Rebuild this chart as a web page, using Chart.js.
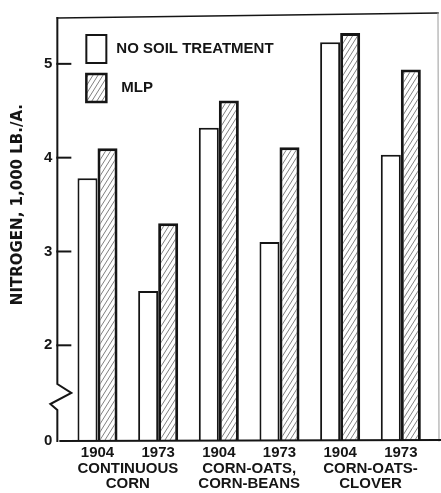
<!DOCTYPE html>
<html>
<head>
<meta charset="utf-8">
<script src="https://cdn.jsdelivr.net/npm/chart.js@4.4.0/dist/chart.umd.min.js"></script>
<style>
  html, body { margin: 0; padding: 0; background: #fff; }
  #wrap { width: 441px; height: 493px; position: relative; }
</style>
</head>
<body>
<div id="wrap"><canvas id="bar-chart"></canvas></div>
<script>
var years = ["1904", "1973", "1904", "1973", "1904", "1973"];
var rotations = [["CONTINUOUS", "CORN"], ["CORN-OATS,", "CORN-BEANS"], ["CORN-OATS-", "CLOVER"]];
var seriesNames = ["NO SOIL TREATMENT", "MLP"];
var noTreatment = [3.78, 2.58, 4.32, 3.1, 5.23, 4.03];
var mlp = [4.1, 3.3, 4.61, 4.11, 5.33, 4.94];
var yTicks = [2, 3, 4, 5];
var yFloor = 0.98; // broken axis: bottom of the plot is labelled 0
var yTitle = 'NITROGEN, 1,000 LB./A.';

var ink = '#151515';
var fontName = '"Liberation Sans", Arial, sans-serif';

function makeHatch() {
  var c = document.createElement('canvas');
  c.width = 5; c.height = 8;
  var g = c.getContext('2d');
  g.fillStyle = '#fff';
  g.fillRect(0, 0, 5, 8);
  g.strokeStyle = '#808080';
  g.lineWidth = 1;
  g.beginPath();
  g.moveTo(0, 8); g.lineTo(5, 0);
  g.moveTo(-5, 8); g.lineTo(0, 0);
  g.moveTo(5, 8); g.lineTo(10, 0);
  g.stroke();
  return g.createPattern(c, 'repeat');
}
var hatch = makeHatch();

function points(arr) {
  return arr.map(function (v, i) { return { x: i, y: v }; });
}

// axis line with break, inward ticks, frame, y title and legend
var frame = {
  id: 'frame',
  afterDraw: function (chart) {
    var ctx = chart.ctx, a = chart.chartArea, y = chart.scales.y;
    ctx.save();
    ctx.strokeStyle = ink;
    ctx.lineCap = 'square';

    // top border
    ctx.lineWidth = 1.5;
    ctx.beginPath();
    ctx.moveTo(a.left, a.top + 2);
    ctx.lineTo(a.right + 2, a.top - 3);
    ctx.stroke();
    // faint right border
    ctx.strokeStyle = '#9a9a9a';
    ctx.lineWidth = 1;
    ctx.beginPath();
    ctx.moveTo(a.right + 2, a.top - 3);
    ctx.lineTo(a.right + 3, a.bottom);
    ctx.stroke();

    // y axis with zigzag break
    ctx.strokeStyle = ink;
    ctx.lineWidth = 2;
    ctx.lineJoin = 'miter';
    ctx.beginPath();
    ctx.moveTo(a.left, a.top + 2);
    ctx.lineTo(a.left, a.bottom - 57);
    ctx.lineTo(a.left + 14, a.bottom - 48);
    ctx.lineTo(a.left - 7, a.bottom - 37);
    ctx.lineTo(a.left, a.bottom - 31);
    ctx.lineTo(a.left, a.bottom);
    ctx.stroke();

    // inward tick marks
    yTicks.forEach(function (t) {
      var py = y.getPixelForValue(t);
      ctx.beginPath();
      ctx.moveTo(a.left, py);
      ctx.lineTo(a.left + 13, py);
      ctx.stroke();
    });

    // bottom axis
    ctx.beginPath();
    ctx.moveTo(a.left + 3, a.bottom);
    ctx.lineTo(chart.width, a.bottom - 1);
    ctx.stroke();

    // y title (sits above the middle, as in the print)
    ctx.save();
    ctx.translate(18, y.getPixelForValue(3.5));
    ctx.rotate(-Math.PI / 2);
    ctx.font = 'bold 15px "DejaVu Sans", sans-serif';
    ctx.textAlign = 'center';
    ctx.textBaseline = 'middle';
    ctx.fillStyle = ink;
    ctx.fillText(yTitle, 0, 0);
    ctx.restore();

    // legend
    var boxes = [{ top: a.top + 19, fill: '#fff', lw: 2 }, { top: a.top + 58, fill: hatch, lw: 2.5 }];
    ctx.font = 'bold 15px ' + fontName;
    ctx.textBaseline = 'middle';
    boxes.forEach(function (b, i) {
      ctx.fillStyle = b.fill;
      ctx.fillRect(a.left + 29, b.top, 20, 28);
      ctx.lineWidth = b.lw;
      ctx.strokeStyle = ink;
      ctx.strokeRect(a.left + 29, b.top, 20, 28);
      ctx.fillStyle = ink;
      ctx.fillText(seriesNames[i], a.left + (i === 0 ? 59 : 64), b.top + 14);
    });
    ctx.restore();
  }
};

var tickFont = { family: fontName, size: 15, weight: 'bold', lineHeight: 1.0 };

var chart = new Chart(document.getElementById('bar-chart'), {
  type: 'bar',
  data: {
    datasets: [
      {
        label: seriesNames[0],
        data: points(noTreatment),
        backgroundColor: '#fff',
        borderColor: ink,
        borderWidth: 2,
        borderSkipped: 'bottom'
      },
      {
        label: seriesNames[1],
        data: points(mlp),
        backgroundColor: hatch,
        borderColor: ink,
        borderWidth: 3,
        borderSkipped: 'bottom'
      }
    ]
  },
  options: {
    responsive: true,
    maintainAspectRatio: false,
    animation: false,
    layout: { padding: { top: 16, right: 5, left: 39, bottom: 0 } },
    datasets: { bar: { categoryPercentage: 0.66, barPercentage: 1 } },
    plugins: { legend: { display: false }, tooltip: { enabled: false } },
    scales: {
      x: {
        type: 'linear',
        offset: false,
        min: -0.662,
        max: 5.58,
        grid: { display: false, drawTicks: false, offset: false },
        border: { display: false },
        afterBuildTicks: function (s) { s.ticks = years.map(function (y, i) { return { value: i }; }); },
        afterFit: function (s) { s.height = 20; },
        ticks: {
          callback: function (v, i) { return years[i]; },
          font: tickFont, color: ink, padding: 4, maxRotation: 0, autoSkip: false
        }
      },
      x2: {
        type: 'linear',
        position: 'bottom',
        offset: false,
        min: -0.662,
        max: 5.58,
        grid: { display: false, drawTicks: false, offset: false },
        border: { display: false },
        afterBuildTicks: function (s) { s.ticks = rotations.map(function (r, k) { return { value: 2 * k + 0.5 }; }); },
        afterFit: function (s) { s.height = 32; },
        ticks: {
          callback: function (v, i) { return rotations[i]; },
          font: tickFont, color: ink, padding: 0, maxRotation: 0, autoSkip: false
        }
      },
      y: {
        min: yFloor,
        max: 5.51,
        grid: { display: false, drawTicks: false },
        border: { display: false },
        afterBuildTicks: function (s) {
          s.ticks = [{ value: yFloor }].concat(yTicks.map(function (t) { return { value: t }; }));
        },
        ticks: {
          callback: function (v) { return v < 1 ? '0' : String(v); },
          font: tickFont, color: ink, padding: 5
        }
      }
    }
  },
  plugins: [frame]
});
</script>
</body>
</html>
